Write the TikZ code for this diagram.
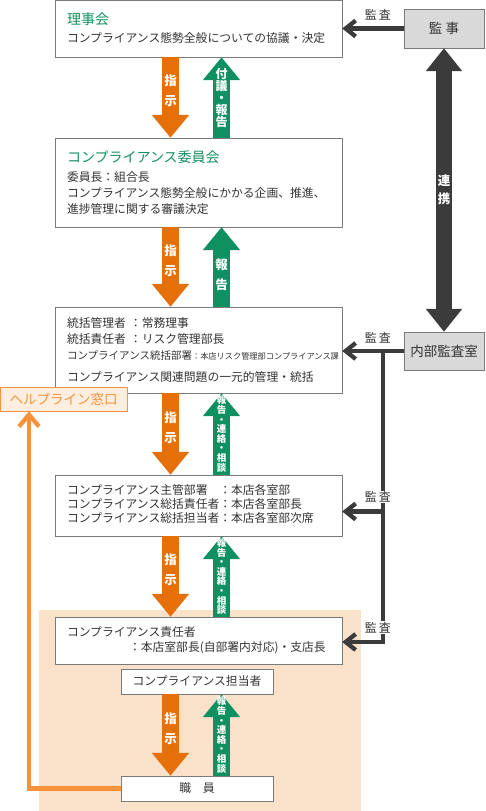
\documentclass[tikz,border=0pt]{standalone}
\usepackage{fontspec}
\setmainfont{Noto Sans CJK JP}
\usetikzlibrary{arrows.meta}

\definecolor{txt}{HTML}{333333}
\definecolor{boxgray}{HTML}{7A7A7A}
\definecolor{orA}{HTML}{E5700A}
\definecolor{grA}{HTML}{0E9060}
\definecolor{titlegr}{HTML}{12905F}
\definecolor{dark}{HTML}{3B3B3B}
\definecolor{helpor}{HTML}{F7923A}
\definecolor{helpfill}{HTML}{FDEEE0}
\definecolor{peach}{HTML}{FAE1CA}
\definecolor{grayfill}{HTML}{D9D9D9}

\begin{document}
\begin{tikzpicture}[x=1pt,y=-1pt,
    box/.style={draw=boxgray, fill=white, text=txt, align=left, inner xsep=12pt, inner ysep=0pt, text width=263pt},
    smallbox/.style={draw=boxgray, fill=white, text=txt, minimum width=152pt, minimum height=25pt, inner sep=0pt, font=\fontsize{11.8}{14}\selectfont},
    graybox/.style={draw=boxgray, fill=grayfill, text=txt, minimum width=80pt, inner sep=0pt, font=\fontsize{13.5}{16}\selectfont},
    downarr/.style={draw=orA, line width=17pt, -{Triangle[width=36pt,length=23pt]}},
    uparr/.style={draw=grA, line width=17pt, -{Triangle[width=36pt,length=23pt]}},
    linkarr/.style={draw=dark, line width=16pt, {Triangle[width=35pt,length=23pt]}-{Triangle[width=35pt,length=23pt]}},
    arrtext/.style={text=white, inner sep=0pt, align=center, font=\fontsize{12.5}{20}\selectfont\bfseries},
    reptext/.style={text=white, inner sep=0pt, align=center, font=\fontsize{9.5}{9.6}\selectfont\bfseries},
    audit/.style={draw=dark, line width=4.3pt, -{Straight Barb[length=10pt,width=16pt]}},
    auditlbl/.style={text=txt, fill=white, inner sep=1pt, font=\fontsize{12}{14}\selectfont},
    helparr/.style={draw=helpor, line width=4.3pt, -{Straight Barb[length=12pt,width=20pt]}}]

    \useasboundingbox (0,0) rectangle (485,811);

    % background of the branch part
    \fill[peach] (39,610) rectangle (361,811);

    % x of the fat arrows
    \coordinate (oa) at (170.5,0);
    \coordinate (ga) at (221.5,0);

    % boxes in the middle
    \node[box, minimum height=57pt, font=\fontsize{11.8}{18}\selectfont] (riji) at (198.5,28.5)
        {{\fontsize{14}{18}\selectfont\color{titlegr}理事会}\\コンプライアンス態勢全般についての協議・決定};
    \node[box, minimum height=89pt, font=\fontsize{11.8}{16}\selectfont] (iinkai) at (198.5,182.5)
        {{\fontsize{14}{16}\selectfont\color{titlegr}コンプライアンス委員会}\\[3pt]委員長：組合長\\コンプライアンス態勢全般にかかる企画、推進、\\進捗管理に関する審議決定};
    \node[box, minimum height=86pt, font=\fontsize{11.8}{16}\selectfont] (tokatsu) at (198.5,350)
        {統括管理者\hspace{4pt}：常務理事\\統括責任者\hspace{4pt}：リスク管理部長\\{\fontsize{10.5}{16}\selectfont コンプライアンス統括部署}{\fontsize{8.2}{16}\selectfont ：本店リスク管理部コンプライアンス課}\\[6pt]コンプライアンス関連問題の一元的管理・統括};
    \node[box, minimum height=61pt, font=\fontsize{11.8}{13.5}\selectfont] (shukan) at (198.5,505.5)
        {\begin{tabular}{@{}l@{}l@{}}
         コンプライアンス主管部署 & ：本店各室部\\
         コンプライアンス総括責任者 & ：本店各室部長\\
         コンプライアンス総括担当者 & ：本店各室部次席
         \end{tabular}};
    \node[box, minimum height=47pt, font=\fontsize{11.8}{15}\selectfont] (sekinin) at (198.5,640.5)
        {コンプライアンス責任者\\\hspace*{62pt}：本店室部長(自部署内対応)・支店長};
    \node[smallbox] (tanto) at (197,681.5) {コンプライアンス担当者};
    \node[smallbox] (shokuin) at (197,788.5) {職　員};

    % boxes on the right
    \node[graybox, minimum height=39pt] (kanji) at (444,28.5) {監 事};
    \node[graybox, minimum height=38pt] (naibu) at (444,351) {内部監査室};

    % helpline
    \node[draw=helpor, fill=helpfill, text=helpor, minimum width=127pt, minimum height=24pt, inner sep=0pt,
          font=\fontsize{13.5}{16}\selectfont] (help) at (63.5,399) {ヘルプライン窓口};

    % instructions and reports
    \draw[downarr] (riji.south -| oa) -- node[pos=.42, arrtext] {指\\示} (iinkai.north -| oa);
    \draw[uparr] (iinkai.north -| ga) -- node[arrtext, font=\fontsize{12}{12}\selectfont\bfseries] {付\\議\\・\\報\\告} (riji.south -| ga);
    \draw[downarr] (iinkai.south -| oa) -- node[pos=.42, arrtext] {指\\示} (tokatsu.north -| oa);
    \draw[uparr] (tokatsu.north -| ga) -- node[pos=.4, arrtext] {報\\告} (iinkai.south -| ga);
    \draw[downarr] (tokatsu.south -| oa) -- node[pos=.42, arrtext] {指\\示} (shukan.north -| oa);
    \draw[uparr] (shukan.north -| ga) -- node[pos=.5, reptext] {報\\告\\・\\連\\絡\\・\\相\\談} (tokatsu.south -| ga);
    \draw[downarr] (shukan.south -| oa) -- node[pos=.42, arrtext] {指\\示} (sekinin.north -| oa);
    \draw[uparr] (sekinin.north -| ga) -- node[pos=.5, reptext] {報\\告\\・\\連\\絡\\・\\相\\談} (shukan.south -| ga);
    \draw[downarr] (tanto.south -| oa) -- node[pos=.42, arrtext] {指\\示} (shokuin.north -| oa);
    \draw[uparr] (shokuin.north -| ga) -- node[pos=.5, reptext] {報\\告\\・\\連\\絡\\・\\相\\談} (tanto.south -| ga);

    % link between the auditors
    \draw[linkarr] (kanji.south) -- node[arrtext, font=\fontsize{12.5}{18}\selectfont\bfseries] {連\\携} (naibu.north);

    % audits
    \draw[audit] (kanji.west) -- node[pos=.42, above=5pt, auditlbl] (lbl1) {監\,査} (riji.east);
    \draw[audit] (naibu.west) -- node[pos=.42, above=5pt, auditlbl] (lbl2) {監\,査} (naibu.west -| tokatsu.east);
    \coordinate (jn) at ([xshift=-21pt]naibu.west);
    \coordinate (b5e) at ([yshift=-1.5pt]sekinin.east);
    \coordinate (b4e) at ([yshift=-6pt]shukan.east);
    \draw[audit] (jn) |- node[pos=.56, above=6pt, auditlbl] (lbl4) {監\,査} (b5e);
    \draw[audit] (jn |- b4e) -- node[pos=.12, above=6pt, auditlbl] (lbl3) {監\,査} (b4e);

    % helpline line
    \coordinate (hp) at ([xshift=-34.5pt]help.south);
    \draw[helparr] (shokuin.west) -| (hp);
\end{tikzpicture}
\end{document}
